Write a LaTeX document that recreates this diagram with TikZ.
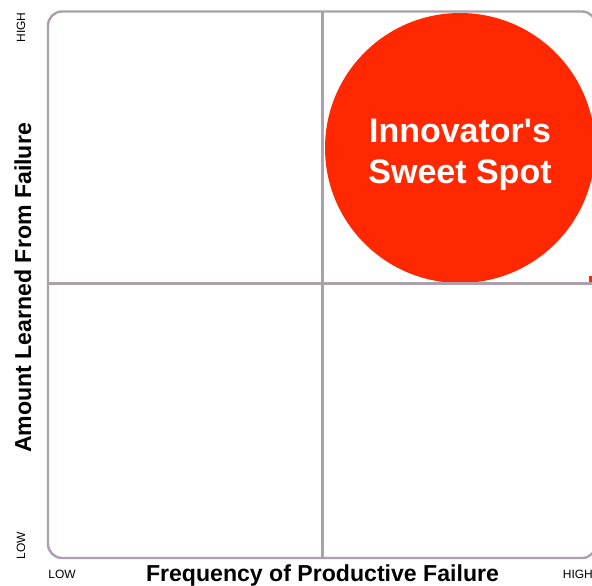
\documentclass[tikz,border=0pt]{standalone}
\usepackage{fontspec}
\setmainfont{Liberation Sans}[Ligatures=TeXOff]
\definecolor{gridline}{RGB}{172,160,172}
\definecolor{spotred}{RGB}{255,40,0}
\begin{document}
\begin{tikzpicture}[x=1pt,y=-1pt,
  gridstroke/.style={draw=gridline,line width=2.4pt},
  axistitle/.style={font=\fontsize{23.1}{27}\selectfont\bfseries,inner sep=0pt,anchor=base},
  ticklabel/.style={font=\fontsize{12}{14}\selectfont,inner sep=0pt,anchor=base},
  spotlabel/.style={font=\fontsize{34}{41}\selectfont\bfseries,text=white,inner sep=0pt,anchor=base}]
  \useasboundingbox (0,0) rectangle (592,586);
  \clip (0,0) rectangle (592,586);
  \fill[white] (0,0) rectangle (592,586);

  % the sweet-spot disc in the upper-right quadrant
  \fill[spotred] (460,148) circle[radius=135];
  \node[spotlabel] (spot1) at (460,142) {Innovator's};
  \node[spotlabel] (spot2) at (460,183) {Sweet Spot};

  % quadrant frame and dividers
  \coordinate (nw) at (48,11.5);
  \coordinate (se) at (596,558);
  \coordinate (vtop) at (322.5,11.5);
  \coordinate (vbot) at (322.5,558);
  \coordinate (hleft) at (48,283.5);
  \coordinate (hright) at (596,283.5);
  \draw[gridstroke,rounded corners=14pt] (nw) rectangle (se);
  \draw[gridstroke] (vtop) -- (vbot);
  \draw[gridstroke] (hleft) -- (hright);

  % small marker at the right end of the middle line
  \fill[spotred] (588.5,276) rectangle (592,281.5);

  % axis titles
  \node[axistitle] (xtitle) at (322.5,581.7) {Frequency of Productive Failure};
  \node[axistitle,rotate=90] (ytitle) at (31,288) {Amount Learned From Failure};

  % axis end labels
  \node[ticklabel] (xlow) at (62,578.3) {LOW};
  \node[ticklabel,anchor=base west] (xhigh) at (562.7,578.3) {HIGH};
  \node[ticklabel,rotate=90] (ylow) at (25,546) {LOW};
  \node[ticklabel,rotate=90] (yhigh) at (25,27.5) {HIGH};
\end{tikzpicture}
\end{document}
